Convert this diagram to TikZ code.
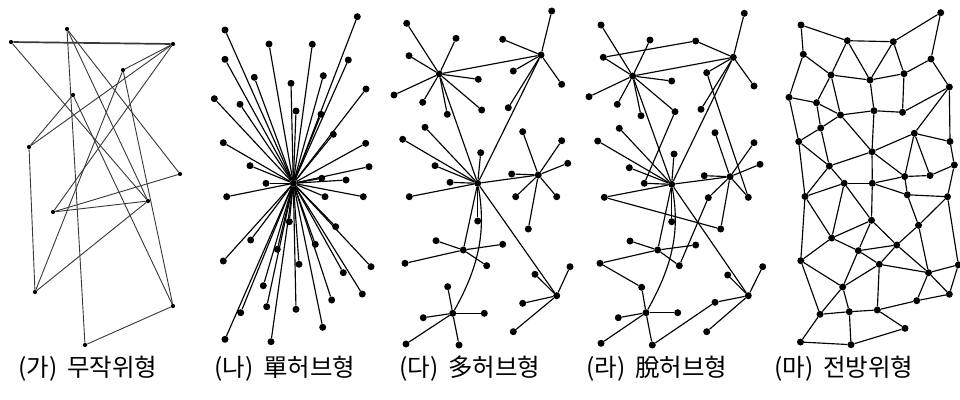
\documentclass[tikz,border=0pt]{standalone}
\usepackage{fontspec}
\newfontfamily\krfont{Noto Sans CJK KR}
\begin{document}
\begin{tikzpicture}[x=1pt,y=-1pt,
  dot/.style={circle,fill=black,inner sep=0pt,minimum size=7pt},
  sdot/.style={circle,fill=black,inner sep=0pt,minimum size=4.2pt},
  edge/.style={line width=1.15pt,black},
  redge/.style={line width=0.9pt,black!78},
  lab/.style={inner sep=0pt,anchor=base,font=\krfont\fontsize{24.5}{27}\selectfont}]
\useasboundingbox[fill=white] (0,0) rectangle (960,399);

% ---------- panel 1: random ----------
\foreach \n/\x/\y in {A/11/42,B/67/29,C/173/44,D/123/70,E/73/95,F/29/147,G/180/174,
  H/148/201,I/53/212,J/35/292,K/173/306,L/85/345}
  \node[sdot] (a\n) at (\x,\y) {};
\draw[redge,line width=1.7pt] (aA) -- (aC);
\foreach \u/\v in {A/H,B/L,B/G,B/H,C/D,C/F,C/I,D/J,D/K,E/F,E/K,F/J,G/I,H/I,H/J,K/L}
  \draw[redge] (a\u) -- (a\v);

% ---------- panel 2: single hub ----------
\node[dot] (bc) at (293.3,183.3) {};
\foreach \x/\y [count=\i] in {357.3/16.7,225/30,269/44,312.3/44.3,348.3/60,225/59.3,
  254.3/77.3,323.3/75.7,291/83.3,366/89,214.3/98.7,240/104.3,296/111,321/114.3,
  333.3/134.3,223.3/142.7,365.7/143.3,250/165.7,369/166.7,321.7/178.3,346/180,
  266/183.3,226.7/196.7,325/196.7,363.3/196.7,289.3/221.7,335.7/226.7,250.7/240,
  223.3/261,277.3/249.3,315.3/244.3,299/264.3,371/266.7,343.3/272.7,263.3/285.7,
  362.3/294,331.7/300,266.7/306.7,296/309.3,240.7/312.7,322.7/327.3,225/339.3,271/341.7}
  {\node[dot] (b\i) at (\x,\y) {};
   \draw[edge] (bc) -- (b\i);}

% ---------- panel 3: multi hub ----------
\foreach \n/\x/\y in {h1/439.3/74,h2/541/55,h3/477.7/183.3,h4/538.3/175,h5/463.3/250,
  h6/452.7/313.3,h7/556.7/295.7,
  1/406.7/23.3,2/456/38.3,3/409/55.7,4/478.3/79.3,5/394/95,6/422.7/102.3,7/481.7/110,8/447.3/114.3,
  9/551.7/11,10/502.7/39.3,11/513.3/71,12/561.7/84.3,13/508.3/107.7,
  14/425/127.3,15/402.7/139.3,16/480.7/152.7,17/435/165.7,18/450/182.3,19/409.3/196.7,20/477.7/221,
  21/522.7/131.7,22/561.7/140.7,23/567.7/163.3,24/511.7/174,25/515.7/196.7,26/556.7/196.7,27/528.3/229,
  28/436/240.7,29/502.7/244.3,30/405/263.3,31/486.7/265.7,
  32/447.7/286.7,33/484.3/313.3,34/423.3/317.7,35/406/344,36/459/345,
  37/570/266.7,38/535/274.3,39/522.7/303.3,40/513.3/331.7}
  \node[dot] (c\n) at (\x,\y) {};
\foreach \h/\a/\b in {h1/1/8,h2/9/13,h3/14/20,h4/21/27,h5/28/31,h6/32/36,h7/37/40}
  \foreach \l in {\a,...,\b} \draw[edge] (c\h) -- (c\l);
\foreach \u/\v in {h1/h2,h1/h3,h2/h3,h3/h4,h3/h5,h3/h7}
  \draw[edge] (c\u) -- (c\v);
\draw[edge] (ch3) .. controls +(8,45) and +(28,-50) .. (ch6);

% ---------- panel 4: de-hub ----------
\foreach \n/\x/\y in {h1/632.7/76,h2/733.3/57.3,h3/671.7/184.3,h4/730/176.7,h5/657.7/250,
  h6/646/312.7,h7/748.3/295.7,
  1/601/25,2/650/40,3/603.3/57.3,4/671.7/81,5/589/96.7,6/617.3/104.3,7/641/115.7,
  8/744.3/13.3,9/706.7/72.7,10/754/86,11/701/109.3,
  12/619.3/128.3,13/644.3/183.3,14/597.7/141,15/674/154,16/629.3/167.7,17/604.3/197.3,18/671.7/221.7,
  19/715/132.7,20/754/142.7,21/760/164.3,22/704.3/175.7,23/708.3/197.7,24/748.3/197.3,
  25/630/241,26/695.7/245,27/600/263.3,28/679.3/265.7,
  29/677.7/312.7,30/618.3/317.7,31/601/343.3,32/652.3/345,
  33/762.7/266.7,34/727.7/275,35/706.7/331.7,
  x1/695.7/41,x2/675/111.7,x3/720.7/229,x4/641.7/287.3,x5/715/302.3}
  \node[dot] (d\n) at (\x,\y) {};
\foreach \h/\a/\b in {h1/1/7,h2/8/11,h3/12/18,h4/19/24,h5/25/28,h6/29/32,h7/33/35}
  \foreach \l in {\a,...,\b} \draw[edge] (d\h) -- (d\l);
\foreach \u/\v in {h1/h2,h1/h3,h2/h3,h3/h4,h3/h5,h3/h7,
  3/x1,x1/h2,h1/x2,x2/13,17/x3,x3/h4,9/24,23/28,27/x4,x4/h6,32/x5,x5/h7}
  \draw[edge] (d\u) -- (d\v);
\draw[edge] (dh3) .. controls +(8,45) and +(28,-50) .. (dh6);

% ---------- panel 5: distributed mesh ----------
\foreach \x/\y [count=\i] in {801/25,940.7/12.7,847.3/40.7,893.3/41.7,803.3/54.3,931/59,
  831/75,870/80,904/73.7,949.3/87,789/97.3,816.5/102.7,840.5/115,874/110.7,902.5/112.3,
  820.7/128,914.3/133.3,798.7/141.5,950/141.5,872/151.7,829.3/166,954.3/165,904.7/176.5,
  930/175.5,844.2/183.3,872.3/183.3,805/196.5,907.3/194.8,947.5/196.7,871.5/220.3,918.5/225.3,
  831.7/238,896.7/245,858.3/250.7,800.8/260.7,879.3/264.3,958.3/264.8,928.5/272.7,842.7/287,
  949.3/294.2,916.7/300.7,820/314.3,849.3/311.7,877.3/310,905/328.3,800.5/342,851/344.7}
  \node[dot] (e\i) at (\x,\y) {};
\foreach \u/\v in {1/3,1/5,3/4,4/2,2/6,3/7,3/8,4/8,4/9,5/7,5/11,6/9,6/10,7/8,8/9,7/12,7/13,
  8/14,9/15,10/15,10/17,10/19,11/12,11/18,12/13,12/16,13/14,14/15,14/20,13/20,13/16,
  16/18,16/21,17/20,17/19,17/23,17/24,18/21,18/27,19/22,20/21,20/26,20/23,21/25,21/27,
  22/24,22/29,23/24,23/26,23/28,25/26,25/27,28/29,26/28,27/32,27/35,25/32,25/30,26/30,
  28/31,29/31,29/37,30/32,30/34,30/33,31/33,31/38,32/34,32/35,33/36,33/34,34/36,34/39,
  35/39,35/42,36/38,36/39,36/44,33/38,37/38,37/40,38/40,38/41,39/42,39/43,41/40,41/44,
  42/43,43/44,44/45,42/46,43/47,46/47,47/45}
  \draw[edge] (e\u) -- (e\v);

% ---------- labels ----------
\node[lab] (t1) at (88,376) {(가)\hspace{0.4em}무작위형};
\node[lab] (t2) at (285,376) {(나)\hspace{0.4em}單허브형};
\node[lab] (t3) at (470,376) {(다)\hspace{0.4em}多허브형};
\node[lab] (t4) at (657,376) {(라)\hspace{0.4em}脫허브형};
\node[lab] (t5) at (844,376) {(마)\hspace{0.4em}전방위형};
\end{tikzpicture}
\end{document}
